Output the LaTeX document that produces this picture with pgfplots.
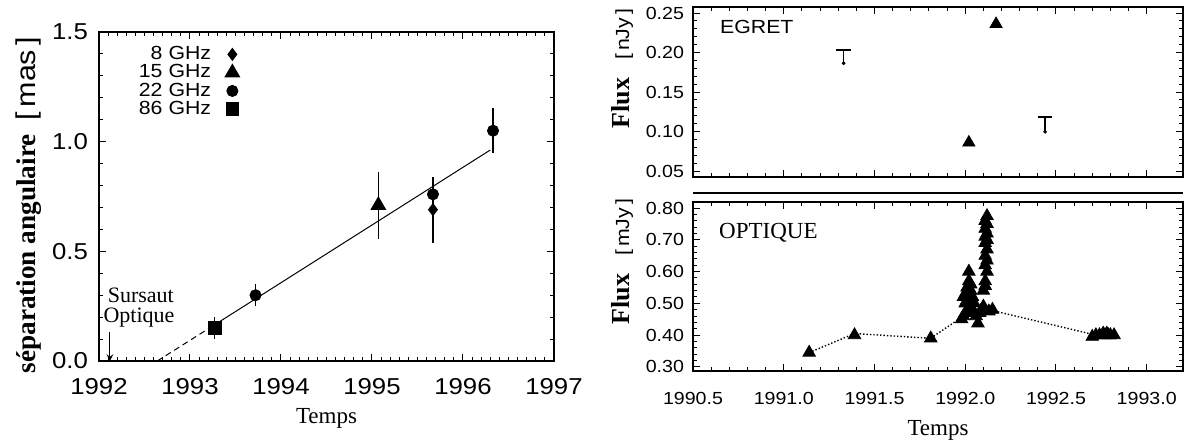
\documentclass[border=0pt]{standalone}
\usepackage{fontspec}
\setmainfont{Liberation Serif}
\newfontfamily\idl[FakeStretch=1.12]{Liberation Sans}
\usepackage{pgfplots}
\pgfplotsset{compat=1.18}
\pgfplotsset{
  myax/.style={
    scale only axis, anchor=south west,
    axis line style={line width=0.6pt},
    tick align=inside, tick pos=both,
    xticklabel pos=lower, yticklabel pos=left,
    tick style={line width=0.5pt, black},
    major tick length=3.5pt, minor tick length=2pt,
    scaled ticks=false,
    /pgf/number format/assume math mode=true,
    clip=false,
  },
}
\begin{document}
\begin{tikzpicture}
\useasboundingbox (0,0) rectangle (593.5pt,220.5pt);
% ---------------- left panel ----------------
\begin{axis}[myax,
  at={(49.5pt,40pt)}, width=227.5pt, height=164.5pt,
  xmin=1992, xmax=1997, ymin=0, ymax=1.5,
  xtick={1992,1993,1994,1995,1996,1997},
  ytick={0,0.5,1.0,1.5},
  minor x tick num=9, minor y tick num=4,
  tick label style={font=\idl\fontsize{11.5}{11.5}\selectfont},
  xticklabel style={yshift=-5pt, /pgf/number format/.cd, 1000 sep={}},
  yticklabel style={xshift=-2pt, /pgf/number format/.cd, fixed, fixed zerofill, precision=1},
  xlabel={Temps},
  xlabel style={font=\fontsize{11.5}{11.5}\selectfont, at={(axis description cs:0.5,-0.175)}, anchor=center},
  ylabel={\bfseries séparation angulaire\hspace{7pt}{\mdseries\idl [\,mas\,]}},
  ylabel style={font=\fontsize{13.6}{13.6}\selectfont, at={(axis description cs:-0.155,0.474)}, anchor=center},
  legend style={draw=none, fill=none, font=\idl\fontsize{9.5}{9.5}\selectfont,
    at={(0.31,0.97)}, anchor=north east, row sep=-3pt, column sep=5pt, inner sep=0pt},
  legend plot pos=right, legend cell align=right,
]
\addplot[black, line width=0.5pt, forget plot] coordinates {(1993.27,0.165) (1996.30,0.962)};
\addplot[black, line width=0.5pt, dash pattern=on 3pt off 2pt, forget plot] coordinates {(1992.64,0) (1993.27,0.165)};
\addplot[black, only marks, mark=diamond*, mark size=3pt,
  error bars/.cd, y dir=both, y explicit, error mark=none, error bar style={line width=0.6pt}]
  coordinates {(1995.67,0.69) +- (0,0.15)};
\addlegendentry{8\hspace{3pt}GHz}
\addplot[black, only marks, mark=triangle*, mark size=4.2pt,
  error bars/.cd, y dir=both, y explicit, error mark=none, error bar style={line width=0.6pt}]
  coordinates {(1995.07,0.71) +- (0,0.153)};
\addlegendentry{15\hspace{3pt}GHz}
\addplot[black, only marks, mark=*, mark size=2.8pt,
  error bars/.cd, y dir=both, y explicit, error mark=none, error bar style={line width=0.6pt}]
  coordinates {(1993.72,0.30) +- (0,0.05) (1995.67,0.76) +- (0,0.08) (1996.33,1.05) +- (0,0.103)};
\addlegendentry{22\hspace{3pt}GHz}
\addplot[black, only marks, mark=square*, mark size=3.2pt,
  error bars/.cd, y dir=both, y explicit, error mark=none, error bar style={line width=0.6pt}]
  coordinates {(1993.27,0.15) +- (0,0.05)};
\addlegendentry{86\hspace{3pt}GHz}
\draw[->, >=stealth, line width=0.5pt] (axis cs:1992.12,0.13) -- (axis cs:1992.12,0.0);
\node[font=\fontsize{11}{11}\selectfont, anchor=center, inner sep=0pt] at (axis cs:1992.46,0.30) {Sursaut};
\node[font=\fontsize{11}{11}\selectfont, anchor=center, inner sep=0pt] at (axis cs:1992.44,0.20) {Optique};
\end{axis}
% ---------------- right top panel ----------------
\begin{axis}[myax,
  at={(346.5pt,132pt)}, width=245pt, height=85pt,
  xmin=1990.5, xmax=1993.2, ymin=0.0424, ymax=0.2576,
  xtick={1990.5,1991.0,1991.5,1992.0,1992.5,1993.0}, xticklabels={},
  ytick={0.05,0.10,0.15,0.20,0.25},
  minor x tick num=4, minor y tick num=4,
  tick label style={font=\idl\fontsize{8.75}{8.75}\selectfont},
  yticklabel style={xshift=-1pt, /pgf/number format/.cd, fixed, fixed zerofill, precision=2},
  ylabel={\bfseries Flux\hspace{9pt}{\mdseries\idl\fontsize{9.5}{9.5}\selectfont [\,nJy\,]}},
  ylabel style={font=\fontsize{13}{13}\selectfont, at={(axis description cs:-0.145,0.638)}, anchor=center},
]
% upper-limit "T" symbols: stem and cap
\addplot[black, line width=0.8pt] coordinates {(1991.33,0.1864) (1991.33,0.2034)};
\addplot[black, line width=1.1pt] coordinates {(1991.29,0.2034) (1991.37,0.2034)};
\addplot[black, line width=0.8pt] coordinates {(1992.44,0.0996) (1992.44,0.1186)};
\addplot[black, line width=1.1pt] coordinates {(1992.40,0.1186) (1992.48,0.1186)};
\addplot[black, only marks, mark=*, mark size=0.7pt] coordinates {(1991.33,0.1864) (1992.44,0.0996)};
\addplot[black, only marks, mark=triangle*, mark size=3.5pt]
  coordinates {(1992.02,0.086) (1992.17,0.236)};
\node[font=\idl\fontsize{9.5}{9.5}\selectfont, anchor=west] at (axis description cs:0.041,0.88) {EGRET};
\end{axis}
\draw[line width=0.6pt] (346.5pt,124pt) -- (591.5pt,124pt);
% ---------------- right bottom panel ----------------
\begin{axis}[myax,
  at={(346.5pt,35pt)}, width=245pt, height=84.5pt,
  xmin=1990.5, xmax=1993.2, ymin=0.287, ymax=0.819,
  xtick={1990.5,1991.0,1991.5,1992.0,1992.5,1993.0},
  ytick={0.30,0.40,0.50,0.60,0.70,0.80},
  minor x tick num=4, minor y tick num=4,
  tick label style={font=\idl\fontsize{8.75}{8.75}\selectfont},
  xticklabel style={yshift=-7pt, /pgf/number format/.cd, fixed, fixed zerofill, precision=1, 1000 sep={}},
  yticklabel style={xshift=-1pt, /pgf/number format/.cd, fixed, fixed zerofill, precision=2},
  xlabel={Temps},
  xlabel style={font=\fontsize{11.5}{11.5}\selectfont, at={(axis description cs:0.5,-0.349)}, anchor=center},
  ylabel={\bfseries Flux\hspace{9pt}{\mdseries\idl\fontsize{9.5}{9.5}\selectfont [\,mJy\,]}},
  ylabel style={font=\fontsize{13}{13}\selectfont, at={(axis description cs:-0.145,0.648)}, anchor=center},
]
\addplot[black, line width=0.7pt, densely dotted] coordinates {
  (1991.14,0.345) (1991.39,0.405) (1991.81,0.39) (1991.99,0.46) (1992.13,0.48) (1992.72,0.40) (1992.82,0.40)};
\addplot[black, only marks, mark=triangle*, mark size=3.6pt] coordinates {
  (1991.14,0.345) (1991.39,0.40) (1991.81,0.39)
  (1991.98,0.45) (1991.99,0.46) (1992.00,0.47) (1992.00,0.50) (1991.99,0.52) (1992.00,0.53)
  (1992.01,0.55) (1992.02,0.57) (1992.02,0.60) (1992.03,0.56) (1992.03,0.54) (1992.04,0.52)
  (1992.05,0.50) (1992.02,0.48) (1992.04,0.47) (1992.06,0.46) (1992.01,0.51) (1992.03,0.49)
  (1992.07,0.437) (1992.08,0.47) (1992.09,0.48) (1992.10,0.49)
  (1992.10,0.54) (1992.11,0.555) (1992.11,0.57) (1992.12,0.60) (1992.11,0.62) (1992.12,0.635)
  (1992.11,0.65) (1992.12,0.67) (1992.11,0.69) (1992.12,0.70) (1992.11,0.71) (1992.12,0.72)
  (1992.11,0.735) (1992.12,0.75) (1992.11,0.76) (1992.12,0.775)
  (1992.13,0.475) (1992.15,0.48)
  (1992.70,0.395) (1992.72,0.40) (1992.74,0.40) (1992.76,0.405) (1992.77,0.40)
  (1992.78,0.405) (1992.79,0.40) (1992.80,0.40) (1992.82,0.40)};
\node[font=\fontsize{11.5}{11.5}\selectfont, anchor=west] at (axis description cs:0.039,0.817) {OPTIQUE};
\end{axis}
\end{tikzpicture}
\end{document}
